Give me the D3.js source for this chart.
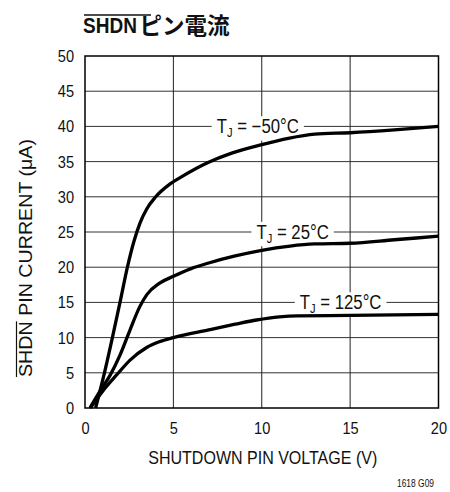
<!DOCTYPE html>
<html>
<head>
<meta charset="utf-8">
<script src="https://cdn.jsdelivr.net/npm/d3@7"></script>
<style>
  html, body { margin: 0; padding: 0; background: #fff; }
  svg { display: block; }
  text { font-family: "Liberation Sans", Arial, sans-serif; fill: #111; }
</style>
</head>
<body>
<svg id="chart" width="450" height="492"></svg>
<script>
// SHDN pin current vs shutdown pin voltage, three junction temperatures
const xTicks = [0, 5, 10, 15, 20];
const yTicks = [0, 5, 10, 15, 20, 25, 30, 35, 40, 45, 50];

const curveMinus50 = [
  [0.6, 0], [1.1, 5], [1.55, 10], [1.98, 15], [2.4, 20], [2.75, 23.5], [3.1, 26.2],
  [3.5, 28.3], [4, 30.0], [4.8, 31.8], [5.5, 32.9], [6.9, 34.8], [8.3, 36.2],
  [10, 37.4], [11.5, 38.3], [13, 38.9], [15, 39.1], [17.5, 39.5], [20, 40]
];
const curve25 = [
  [0.28, 0], [0.9, 2.6], [1.41, 4.6], [1.98, 7.5], [2.55, 11.1], [3.1, 14.4], [3.5, 16.1],
  [4.2, 17.7], [5, 18.7], [6, 19.8], [7, 20.6], [8.5, 21.6], [10, 22.4], [11.6, 23.0],
  [13, 23.3], [15, 23.4], [17.5, 23.9], [20, 24.4]
];
const curve125 = [
  [0.3, 0], [1.0, 2.4], [1.79, 4.7], [2.55, 6.8], [3.49, 8.6], [4.2, 9.4], [5, 10.0],
  [7, 11.1], [8.5, 11.9], [9.7, 12.5], [11, 12.95], [12, 13.1], [15, 13.15], [20, 13.3]
];
const seriesData = [curveMinus50, curve25, curve125];
const seriesTemps = ["\u221250\u00B0C", "25\u00B0C", "125\u00B0C"];
const labelAt = [[7.45, 40], [9.7, 25], [12.15, 15]];

const svg = d3.select("#chart");
const m = { left: 85, right: 438.5, top: 56, bottom: 408 };

const x = d3.scaleLinear().domain([0, 20]).range([m.left, m.right]);
const y = d3.scaleLinear().domain([0, 50]).range([m.bottom, m.top]);

// narrow the glyphs horizontally around each text's own x anchor
function squeeze(sel, k) {
  sel.each(function () {
    const x0 = +this.getAttribute("x") || 0;
    d3.select(this).attr("transform", `translate(${x0},0) scale(${k},1) translate(${-x0},0)`);
  });
}

// grid
const grid = svg.append("g");
grid.selectAll("line.h").data(yTicks.slice(1, -1)).join("line")
  .attr("x1", m.left).attr("x2", m.right)
  .attr("y1", d => y(d)).attr("y2", d => y(d))
  .attr("stroke", "#333").attr("stroke-width", 1);
grid.selectAll("line.v").data(xTicks.slice(1, -1)).join("line")
  .attr("y1", m.top).attr("y2", m.bottom)
  .attr("x1", d => x(d)).attr("x2", d => x(d))
  .attr("stroke", "#222").attr("stroke-width", 1);

// axes tick labels
const xAxis = d3.axisBottom(x).tickValues(xTicks).tickSize(0).tickPadding(14);
const yAxis = d3.axisLeft(y).tickValues(yTicks).tickSize(0).tickPadding(11);
const gx = svg.append("g").attr("transform", `translate(0,${m.bottom})`).call(xAxis);
const gy = svg.append("g").attr("transform", `translate(${m.left},0)`).call(yAxis);
[gx, gy].forEach(g => {
  g.select(".domain").remove();
  g.selectAll("text").style("font-family", '"Liberation Sans", Arial, sans-serif')
    .style("font-size", "17px").attr("fill", "#111")
    .call(squeeze, 0.86);
});

// curve labels with a white box breaking the grid behind them
const labels = svg.append("g");
seriesTemps.forEach((t, i) => {
  const g = labels.append("g");
  const txt = g.append("text")
    .attr("x", x(labelAt[i][0])).attr("y", y(labelAt[i][1]) + 7)
    .style("font-size", "19.5px");
  txt.append("tspan").text("T");
  txt.append("tspan").text("J").attr("dy", 4).style("font-size", "13px");
  txt.append("tspan").text(" = " + t).attr("dy", -4);
  txt.call(squeeze, 0.86);
  const bb = g.node().getBBox();
  g.insert("rect", "text")
    .attr("x", bb.x - 5).attr("y", bb.y).attr("width", bb.width + 10).attr("height", bb.height)
    .attr("fill", "#fff");
});

// curves
const line = d3.line().x(d => x(d[0])).y(d => y(d[1])).curve(d3.curveMonotoneX);
svg.append("g").selectAll("path").data(seriesData).join("path")
  .attr("d", line).attr("fill", "none").attr("stroke", "#000")
  .attr("stroke-width", 3.3).attr("stroke-linejoin", "round");

// frame
svg.append("rect").attr("x", m.left).attr("y", m.top)
  .attr("width", m.right - m.left).attr("height", m.bottom - m.top)
  .attr("fill", "none").attr("stroke", "#000").attr("stroke-width", 1.5);

// x axis title
svg.append("text").attr("x", (m.left + m.right) / 2 + 1).attr("y", 464)
  .attr("text-anchor", "middle").style("font-size", "18.5px")
  .attr("textLength", 229).attr("lengthAdjust", "spacingAndGlyphs")
  .text("SHUTDOWN PIN VOLTAGE (V)");

// y axis title with overbar on SHDN
const yTitleLen = 238;
const yt = svg.append("text")
  .attr("transform", "translate(32,258) rotate(-90)")
  .attr("text-anchor", "middle").style("font-size", "17.5px")
  .attr("textLength", yTitleLen).attr("lengthAdjust", "spacingAndGlyphs")
  .text("SHDN PIN CURRENT (\u03BCA)");
{
  const natural = d3.select(document.body).append("svg").attr("width", 0).attr("height", 0)
    .append("text").style("font-size", "17.5px").text("SHDN PIN CURRENT (\u03BCA)");
  const tot = natural.node().getComputedTextLength();
  const w = natural.node().getSubStringLength(0, 4) * yTitleLen / tot;
  d3.select(natural.node().parentNode).remove();
  svg.append("line")
    .attr("transform", "translate(32,258) rotate(-90)")
    .attr("x1", -yTitleLen / 2).attr("x2", -yTitleLen / 2 + w)
    .attr("y1", -15.5).attr("y2", -15.5)
    .attr("stroke", "#111").attr("stroke-width", 1.2);
}

// title: bold narrow "SHDN" with overbar, then Japanese text
svg.append("text").attr("x", 83).attr("y", 33)
  .style("font-size", "22px").style("font-weight", "bold")
  .text("SHDN")
  .call(squeeze, 0.865);
svg.append("text").attr("x", 139.5).attr("y", 34)
  .style("font-family", '"Noto Sans CJK JP", sans-serif')
  .style("font-size", "22.5px").style("font-weight", "bold")
  .text("ピン電流");
svg.append("line").attr("x1", 84).attr("x2", 151)
  .attr("y1", 15).attr("y2", 15).attr("stroke", "#111").attr("stroke-width", 1.5);

// figure id
svg.append("text").attr("x", 434).attr("y", 487).attr("text-anchor", "end")
  .style("font-size", "11.5px")
  .attr("textLength", 37).attr("lengthAdjust", "spacingAndGlyphs")
  .text("1618 G09");
</script>
</body>
</html>
